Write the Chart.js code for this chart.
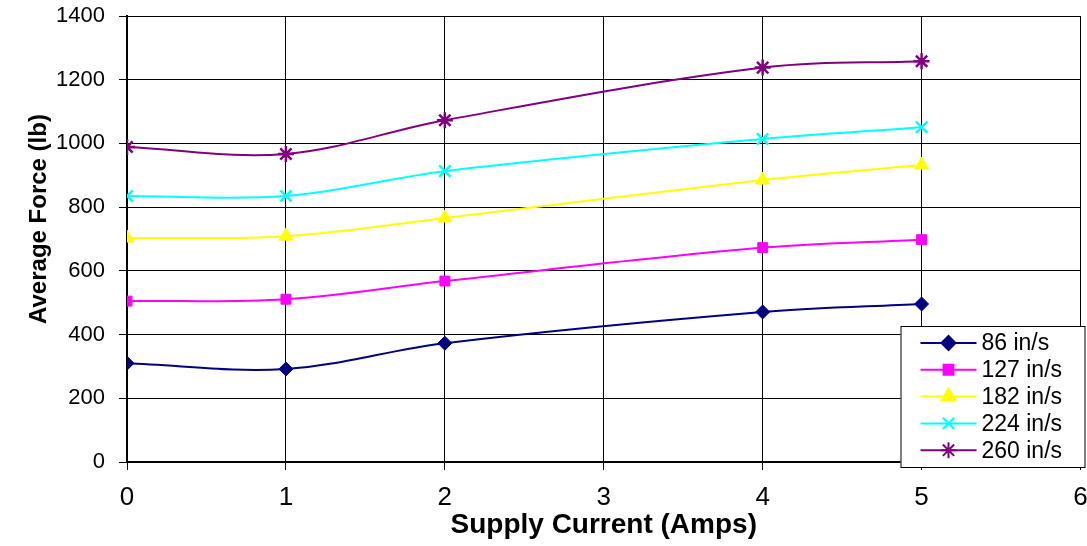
<!DOCTYPE html>
<html>
<head>
<meta charset="utf-8">
<script src="https://cdn.jsdelivr.net/npm/chart.js@4/dist/chart.umd.min.js"></script>
<style>
  html, body { margin: 0; padding: 0; background: #fff; overflow: hidden; }
  #wrap { width: 1087px; height: 546px; overflow: hidden; }
</style>
</head>
<body>
<div id="wrap"><canvas id="forceChart" width="1091" height="546"></canvas></div>
<script>
/* Average force vs supply current, one line per speed */

const currents = [0, 1, 2, 4, 5];
const speedLabels = ['86 in/s', '127 in/s', '182 in/s', '224 in/s', '260 in/s'];

const force86 = [310, 292, 373, 471, 496];
const force127 = [505, 511, 568, 673, 698];
const force182 = [703, 709, 766, 885, 932];
const force224 = [835, 835, 913, 1014, 1051];
const force260 = [989, 967, 1073, 1238, 1258];

const yTicks = [0, 200, 400, 600, 800, 1000, 1200, 1400];
const xTicks = [0, 1, 2, 3, 4, 5, 6];

const seriesColors = ['#000080', '#FF00FF', '#FFFF00', '#00FFFF', '#800080'];
const seriesStyles = ['rectRot', 'rect', 'triangle', 'crossRot', 'star'];
const seriesRadius = [7, 7, 8, 8, 8];

const allForces = [force86, force127, force182, force224, force260];

const FONT = '"Liberation Sans", Arial, sans-serif';

const datasets = allForces.map((vals, i) => ({
    label: speedLabels[i],
    data: currents.map((c, j) => ({ x: c, y: vals[j] })),
    borderColor: seriesColors[i],
    backgroundColor: seriesColors[i],
    borderWidth: 2,
    tension: 0.35,
    pointStyle: seriesStyles[i],
    pointRadius: seriesRadius[i],
    pointBorderWidth: (seriesStyles[i] === 'crossRot' || seriesStyles[i] === 'star') ? 2.5 : 1,
    pointBorderColor: seriesColors[i],
    pointBackgroundColor: seriesColors[i]
}));

// legend box drawn inside the plot, lower right corner
const boxLegend = {
    id: 'boxLegend',
    afterDraw(chart) {
        const ctx = chart.ctx;
        const area = chart.chartArea;
        const w = 184, h = 141;
        const right = area.right + 4;
        const bottom = area.bottom + 5;
        const left = right - w, top = bottom - h;
        ctx.save();
        ctx.fillStyle = '#fff';
        ctx.fillRect(left, top, w, h);
        ctx.strokeStyle = '#000';
        ctx.lineWidth = 1;
        ctx.strokeRect(left + 0.5, top + 0.5, w, h);
        ctx.font = '23px ' + FONT;
        ctx.textBaseline = 'middle';
        const rowH = 26.8;
        datasets.forEach((ds, i) => {
            const y = top + 17 + i * rowH;
            ctx.strokeStyle = ds.borderColor;
            ctx.lineWidth = 2;
            ctx.beginPath();
            ctx.moveTo(left + 20, y);
            ctx.lineTo(left + 76, y);
            ctx.stroke();
            ctx.fillStyle = ds.borderColor;
            Chart.helpers.drawPoint(ctx, {
                pointStyle: ds.pointStyle,
                radius: ds.pointRadius,
                rotation: 0,
                borderWidth: ds.pointBorderWidth
            }, left + 48, y);
            ctx.fillStyle = '#000';
            ctx.fillText(ds.label, left + 81, y + 1);
        });
        ctx.restore();
    }
};

new Chart(document.getElementById('forceChart'), {
    type: 'line',
    data: { datasets },
    plugins: [boxLegend],
    options: {
        responsive: false,
        animation: false,
        layout: { padding: { top: 16, right: 0, left: 0, bottom: 0 } },
        plugins: {
            legend: { display: false },
            tooltip: { enabled: false }
        },
        scales: {
            x: {
                type: 'linear',
                min: 0,
                max: 6,
                afterBuildTicks: s => { s.ticks = xTicks.map(v => ({ value: v })); },
                afterFit: s => { s.height = 84; s.paddingLeft = 0; s.paddingRight = 0; },
                grid: { color: '#000', lineWidth: 1, tickLength: 8 },
                border: { color: '#000', width: 2 },
                ticks: { color: '#000', font: { family: FONT, size: 26 }, padding: 12, maxRotation: 0 },
                title: {
                    display: true,
                    text: 'Supply Current (Amps)',
                    color: '#000',
                    font: { family: FONT, size: 28, weight: 'bold' },
                    padding: { top: 0, bottom: 4 }
                }
            },
            y: {
                min: 0,
                max: 1400,
                afterBuildTicks: s => { s.ticks = yTicks.map(v => ({ value: v })); },
                afterFit: s => { s.width = 127; s.paddingTop = 0; s.paddingBottom = 0; },
                grid: { color: '#000', lineWidth: 1, tickLength: 8 },
                border: { color: '#000', width: 2 },
                ticks: { color: '#000', font: { family: FONT, size: 22 }, padding: 14, callback: v => String(v) },
                title: {
                    display: true,
                    text: '\u00A0\u00A0\u00A0\u00A0\u00A0\u00A0Average Force (lb)',
                    color: '#000',
                    font: { family: FONT, size: 24, weight: 'bold' },
                    padding: { top: 25, bottom: 0 }
                }
            }
        }
    }
});
</script>
</body>
</html>
